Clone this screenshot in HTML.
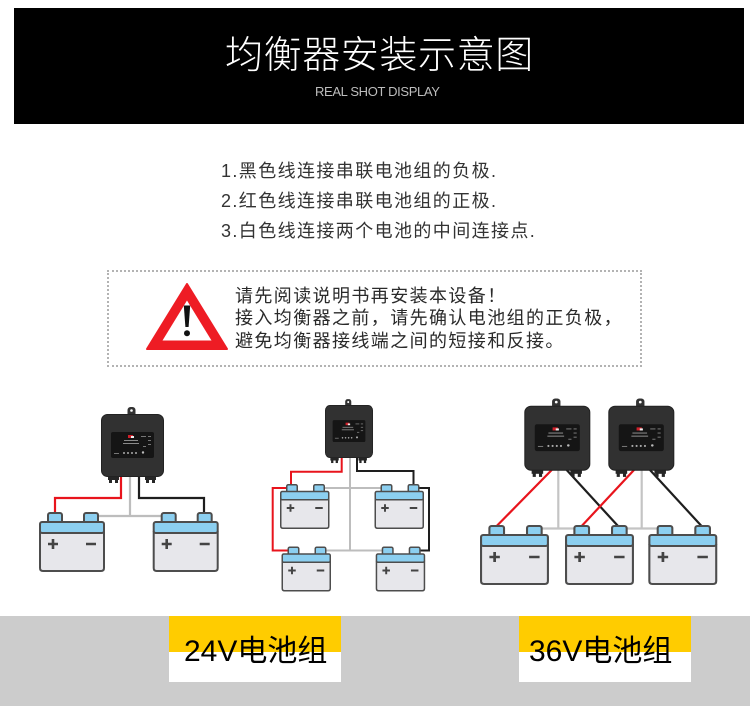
<!DOCTYPE html>
<html><head><meta charset="utf-8">
<style>
html,body{margin:0;padding:0;}
body{width:750px;height:706px;position:relative;overflow:hidden;background:#fff;font-family:"Liberation Sans","Noto Sans CJK SC",sans-serif;}
.a{position:absolute;white-space:nowrap;}
#hdr{left:14px;top:8px;width:730px;height:116px;background:#000;}
#title{left:225px;top:37px;font-size:38px;line-height:38px;color:#fff;letter-spacing:0.6px;font-weight:300;}
#sub{left:315px;top:84px;font-size:13px;line-height:16px;color:#bdbdbd;letter-spacing:-0.35px;}
#list{left:221px;top:155.5px;font-size:18px;line-height:30px;color:#333;letter-spacing:1.4px;}
#warn{left:107px;top:270px;width:535px;height:97px;box-sizing:border-box;border:2px dotted #b3b3b3;}
#wtxt{left:235px;top:284.5px;font-size:18px;line-height:22.5px;color:#2a2a2a;letter-spacing:1.4px;}
#band{left:0;top:616px;width:750px;height:90px;background:#cccccc;}
.lab{position:absolute;width:172px;height:66px;background:linear-gradient(#ffcc00 0,#ffcc00 36px,#fff 36px,#fff 100%);}
.lab span{position:absolute;top:20px;font-size:30px;line-height:32px;color:#000;white-space:nowrap;}
</style></head>
<body>
<div class="a" id="hdr"></div>
<div class="a" id="title">均衡器安装示意图</div>
<div class="a" id="sub">REAL SHOT DISPLAY</div>

<div class="a" id="list">1.黑色线连接串联电池组的负极.<br>2.红色线连接串联电池组的正极.<br>3.白色线连接两个电池的中间连接点.</div>

<div class="a" id="warn"></div>
<div class="a" id="wtxt">请先阅读说明书再安装本设备！<br>接入均衡器之前，请先确认电池组的正负极，<br>避免均衡器接线端之间的短接和反接。</div>

<div class="a" id="band"></div>
<div class="lab" style="left:169px;top:616px;"><span style="left:15px;">24V电池组</span></div>
<div class="lab" style="left:519px;top:616px;height:66px;"><span style="left:10px;">36V电池组</span></div>

<svg class="a" style="left:0;top:0;" width="750" height="706" viewBox="0 0 750 706">
<defs>
 <g id="bat">
  <rect x="9" y="1" width="14" height="10" rx="2" fill="#8ccff0" stroke="#4d4d4d" stroke-width="2"/>
  <rect x="45" y="1" width="14" height="10" rx="2" fill="#8ccff0" stroke="#4d4d4d" stroke-width="2"/>
  <path d="M1 20 H65 V56 Q65 59 62 59 H4 Q1 59 1 56 Z" fill="#e7e7eb" stroke="#4d4d4d" stroke-width="2"/>
  <rect x="1" y="10" width="64" height="11" rx="2" fill="#8ccff0" stroke="#4d4d4d" stroke-width="2"/>
  <path d="M9 32 H19 M14 27 V37 M47 32 H57" stroke="#444" stroke-width="2.6" fill="none"/>
 </g>
 <g id="bal">
  <rect x="26.5" y="-7" width="8" height="10" rx="3" fill="#333"/>
  <circle cx="30.5" cy="-3.5" r="1.3" fill="#fff"/>
  <rect x="7" y="59" width="11" height="7" fill="#262626"/>
  <rect x="8" y="65" width="3" height="4" fill="#262626"/>
  <rect x="14" y="65" width="3" height="4" fill="#262626"/>
  <rect x="44" y="59" width="11" height="7" fill="#262626"/>
  <rect x="45" y="65" width="3" height="4" fill="#262626"/>
  <rect x="51" y="65" width="3" height="4" fill="#262626"/>
  <rect x="0.5" y="0.5" width="62" height="62" rx="6" fill="#313131" stroke="#222" stroke-width="1"/>
  <rect x="10" y="18" width="43" height="26" rx="2" fill="#151515"/>
  <rect x="27" y="21" width="5" height="3" fill="#d0202a"/>
  <rect x="30" y="22" width="3" height="2" fill="#eee"/>
  <rect x="23" y="26" width="14" height="1" fill="#8a8a8a"/>
  <rect x="22" y="29" width="16" height="1" fill="#8a8a8a"/>
  <rect x="40" y="22" width="5" height="1" fill="#777"/>
  <rect x="47" y="22" width="3" height="1" fill="#777"/>
  <rect x="47" y="26" width="3" height="1" fill="#777"/>
  <rect x="47" y="30" width="3" height="1" fill="#777"/>
  <rect x="42" y="32" width="3" height="1" fill="#777"/>
  <rect x="13" y="39" width="5" height="1" fill="#777"/>
  <circle cx="23" cy="39" r="1" fill="#aaa"/>
  <circle cx="27" cy="39" r="1" fill="#aaa"/>
  <circle cx="31" cy="39" r="1" fill="#aaa"/>
  <circle cx="35" cy="39" r="1" fill="#aaa"/>
  <circle cx="42" cy="38.5" r="1.2" fill="#bbb"/>
 </g>
</defs>

<!-- warning triangle -->
<polygon points="187,284 147,349 227,349" fill="#ee1c24" stroke="#ee1c24" stroke-width="2" stroke-linejoin="round"/>
<polygon points="187,300.5 162.5,340.5 211.5,340.5" fill="#fff"/>
<path d="M183.8 305.5 L190.2 305.5 L188.6 327 L185.4 327 Z" fill="#111"/>
<circle cx="187" cy="333.2" r="3" fill="#111"/>

<!-- Diagram 1 wires -->
<g fill="none" stroke-width="2.2">
 <polyline points="121,476 121,498 55,498 55,512" stroke="#e8141c"/>
 <polyline points="130,476 130,516" stroke="#bdbdbd"/>
 <polyline points="97,516 163,516" stroke="#bdbdbd"/>
 <polyline points="139,476 139,498 204,498 204,512" stroke="#1e1e1e"/>
</g>
<!-- Diagram 2 wires -->
<g fill="none" stroke-width="2">
 <polyline points="341.7,457 341.7,471.7 291,471.7 291,485" stroke="#e8141c"/>
 <polyline points="287,488 272.7,488 272.7,550.5 288,550.5" stroke="#e8141c"/>
 <polyline points="350,457 350,550.5" stroke="#bdbdbd"/>
 <polyline points="323,488 382,488" stroke="#bdbdbd"/>
 <polyline points="325,550.5 383,550.5" stroke="#bdbdbd"/>
 <polyline points="357,457 357,471 413.5,471 413.5,485" stroke="#1e1e1e"/>
 <polyline points="418,488 429,488 429,550.5 419,550.5" stroke="#1e1e1e"/>
</g>
<!-- Diagram 3 wires -->
<g fill="none" stroke-width="2.2">
 <polyline points="558.3,470 558.3,528.5" stroke="#c4c4c4"/>
 <polyline points="541,528.5 575,528.5" stroke="#c4c4c4"/>
 <polyline points="641.7,470 641.7,528.5" stroke="#c4c4c4"/>
 <polyline points="626,528.5 659,528.5" stroke="#c4c4c4"/>
 <line x1="551.7" y1="470" x2="496.7" y2="526" stroke="#e8141c"/>
 <line x1="566.7" y1="470" x2="618" y2="526" stroke="#1e1e1e"/>
 <line x1="634" y1="470" x2="581.7" y2="526" stroke="#e8141c"/>
 <line x1="650" y1="470" x2="701.5" y2="526" stroke="#1e1e1e"/>
</g>

<!-- batteries -->
<use href="#bat" transform="translate(39,512)"/>
<use href="#bat" transform="translate(152.7,512)"/>
<use href="#bat" transform="translate(280,484) scale(0.75)"/>
<use href="#bat" transform="translate(374.5,484) scale(0.75)"/>
<use href="#bat" transform="translate(281.5,546.5) scale(0.75)"/>
<use href="#bat" transform="translate(375.7,546.5) scale(0.75)"/>
<use href="#bat" transform="translate(480,525) scale(1.045,1)"/>
<use href="#bat" transform="translate(565,525) scale(1.045,1)"/>
<use href="#bat" transform="translate(648.3,525) scale(1.045,1)"/>

<!-- balancers -->
<use href="#bal" transform="translate(101,414)"/>
<use href="#bal" transform="translate(325,405) scale(0.762,0.841)"/>
<use href="#bal" transform="translate(524.3,405.7) scale(1.048,1.032)"/>
<use href="#bal" transform="translate(608.3,405.7) scale(1.048,1.032)"/>
</svg>
</body></html>
